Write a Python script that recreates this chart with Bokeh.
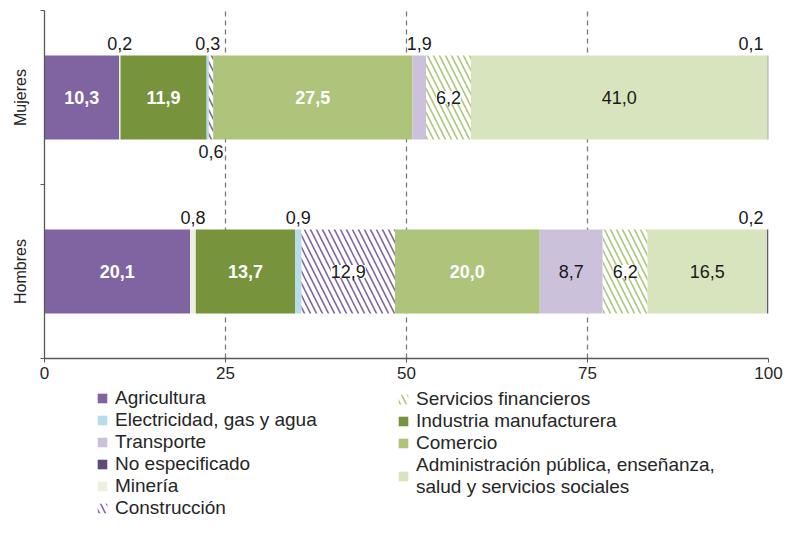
from bokeh.plotting import figure
from bokeh.layouts import column
from bokeh.models import (ColumnDataSource, Range1d, FixedTicker, LabelSet,
                          Legend, LegendItem)
from bokeh.core.properties import value
from bokeh.transform import stack
from bokeh.embed import file_html
from bokeh.resources import INLINE

# ---------------- data ----------------
groups = ["Hombres", "Mujeres"]          # bottom to top
sectors = ["Agricultura", "Minería", "Industria manufacturera",
           "Electricidad, gas y agua", "Construcción", "Comercio",
           "Transporte", "Servicios financieros", "Administración pública",
           "No especificado"]
mujeres = [10.3, 0.2, 11.9, 0.3, 0.6, 27.5, 1.9, 6.2, 41.0, 0.1]
hombres = [20.1, 0.8, 13.7, 0.9, 12.9, 20.0, 8.7, 6.2, 16.5, 0.2]
x_ticks = [0, 25, 50, 75, 100]
legend_col1 = ["Agricultura", "Electricidad, gas y agua", "Transporte",
               "No especificado", "Minería", "Construcción"]
legend_col2 = ["Servicios financieros", "Industria manufacturera", "Comercio",
               "Administración pública"]
legend_text = {"Administración pública":
               "Administración pública, enseñanza,\nsalud y servicios sociales"}

# ---------------- styles ----------------
FONT = "Liberation Sans"
fill = {"Agricultura": "#8064a2", "Minería": "#ebf1de",
        "Industria manufacturera": "#77933c",
        "Electricidad, gas y agua": "#b7dee8", "Construcción": "white",
        "Comercio": "#adc47a", "Transporte": "#ccc1da",
        "Servicios financieros": "white", "Administración pública": "#d7e4bd",
        "No especificado": "#604a7b"}
hatch = {"Construcción": "#8064a2", "Servicios financieros": "#aec67c"}
bold_white = {"Agricultura", "Industria manufacturera", "Comercio"}
below = {("Mujeres", "Construcción")}
end_right = {"No especificado"}
BAR_H = 0.483

def bar_style(s):
    kw = dict(fill_color=fill[s], line_color=None)
    if s in hatch:
        kw.update(hatch_pattern="\\", hatch_color=hatch[s], hatch_weight=1.6,
                  hatch_scale=12)
    return kw

values = {"Hombres": hombres, "Mujeres": mujeres}
keys = [f"s{i}" for i in range(len(sectors))]
data = {"y": [i + 0.5 for i in range(len(groups))]}
for i, k in enumerate(keys):
    data[k] = [values[g][i] for g in groups]
src = ColumnDataSource(data)

p = figure(width=784, height=388, output_backend="svg", toolbar_location=None,
           x_range=Range1d(0, 100), y_range=Range1d(0, len(groups)),
           min_border_left=44, min_border_right=16, min_border_top=10,
           min_border_bottom=30)
p.outline_line_color = None

for i, (k, s) in enumerate(zip(keys, sectors)):
    p.hbar(y="y", left=stack(*keys[:i]), right=stack(*keys[:i + 1]),
           height=BAR_H, source=src, **bar_style(s))

# ---------------- value labels ----------------
lab = {"white": dict(x=[], y=[], t=[]), "dark": dict(x=[], y=[], t=[]),
       "box": dict(x=[], y=[], t=[]), "out": dict(x=[], y=[], t=[], off=[]),
       "end": dict(x=[], y=[], t=[], off=[])}
for gi, g in enumerate(groups):
    cum = 0.0
    for s, v in zip(sectors, values[g]):
        left, right = cum, cum + v
        cum = right
        txt = f"{v:.1f}".replace(".", ",")
        yc = gi + 0.5
        if v >= 5:
            key = "white" if s in bold_white else ("box" if s in hatch else "dark")
            lab[key]["x"].append((left + right) / 2)
            lab[key]["y"].append(yc)
            lab[key]["t"].append(txt)
        elif s in end_right:
            lab["end"]["x"].append(right)
            lab["end"]["y"].append(yc)
            lab["end"]["t"].append(txt)
            lab["end"]["off"].append(54)
        else:
            lab["out"]["x"].append((left + right) / 2)
            lab["out"]["y"].append(yc)
            lab["out"]["t"].append(txt)
            lab["out"]["off"].append(-54 if (g, s) in below else 54)

common = dict(text_font=value(FONT), text_font_size="18px", text_baseline="middle")
p.add_layout(LabelSet(x="x", y="y", text="t", source=ColumnDataSource(lab["white"]),
                      text_color="white", text_font_style="bold",
                      text_align="center", **common))
p.add_layout(LabelSet(x="x", y="y", text="t", source=ColumnDataSource(lab["dark"]),
                      text_color="#1a1a1a", text_align="center", **common))
p.add_layout(LabelSet(x="x", y="y", text="t", source=ColumnDataSource(lab["box"]),
                      text_color="#1a1a1a", text_align="center",
                      background_fill_color="white", **common))
p.add_layout(LabelSet(x="x", y="y", text="t", y_offset="off",
                      source=ColumnDataSource(lab["out"]),
                      text_color="#1a1a1a", text_align="center", **common))
p.add_layout(LabelSet(x="x", y="y", text="t", y_offset="off", x_offset=-5,
                      source=ColumnDataSource(lab["end"]),
                      text_color="#1a1a1a", text_align="right", **common))

# ---------------- axes & grid ----------------
AX = "#595959"
p.xaxis.ticker = FixedTicker(ticks=x_ticks)
p.xaxis.axis_line_color = AX
p.xaxis.axis_line_width = 1.3
p.xaxis.major_tick_line_color = AX
p.xaxis.major_tick_out = 4
p.xaxis.major_tick_in = 0
p.xaxis.minor_tick_line_color = None
p.xaxis.major_label_text_font = FONT
p.xaxis.major_label_text_font_size = "17px"
p.xaxis.major_label_text_color = "#262626"
p.xaxis.major_label_standoff = 4

p.yaxis.ticker = FixedTicker(ticks=[i + 0.5 for i in range(len(groups))],
                             minor_ticks=list(range(len(groups) + 1)))
p.yaxis.major_label_overrides = {i + 0.5: g for i, g in enumerate(groups)}
p.yaxis.major_label_orientation = "vertical"
p.yaxis.axis_line_color = AX
p.yaxis.axis_line_width = 1.3
p.yaxis.major_tick_line_color = None
p.yaxis.major_tick_out = 0
p.yaxis.major_tick_in = 0
p.yaxis.minor_tick_line_color = AX
p.yaxis.minor_tick_out = 4
p.yaxis.minor_tick_in = 0
p.yaxis.major_label_text_font = FONT
p.yaxis.major_label_text_font_size = "16px"
p.yaxis.major_label_text_color = "#262626"
p.yaxis.major_label_standoff = 12

p.ygrid.visible = False
p.xgrid.ticker = FixedTicker(ticks=x_ticks[1:])
p.xgrid.grid_line_color = "#7a7a7a"
p.xgrid.grid_line_dash = "5 4"
p.xgrid.grid_line_width = 1.3

# ---------------- legend panel ----------------
# Same stacked bars, drawn outside this panel's visible range: they only
# provide the legend swatches.
lf = figure(width=784, height=131, output_backend="svg", toolbar_location=None,
            x_range=Range1d(0, 100), y_range=Range1d(10, 11),
            min_border=0, x_axis_location=None, y_axis_location=None)
lf.outline_line_color = None
lf.xgrid.visible = False
lf.ygrid.visible = False
legend_glyphs = {}
for i, (k, s) in enumerate(zip(keys, sectors)):
    legend_glyphs[s] = lf.hbar(y="y", left=stack(*keys[:i]),
                               right=stack(*keys[:i + 1]), height=BAR_H,
                               source=src, **bar_style(s))

def make_legend(names, loc):
    items = [LegendItem(label=legend_text.get(n, n), renderers=[legend_glyphs[n]])
             for n in names]
    return Legend(items=items, location=loc, orientation="vertical",
                  label_text_font=FONT, label_text_font_size="19px",
                  label_text_color="#262626", glyph_width=12, glyph_height=12,
                  label_standoff=7, spacing=0, padding=0, margin=0,
                  border_line_color=None, background_fill_alpha=0)

lf.add_layout(make_legend(legend_col1, (52, 0)))
lf.add_layout(make_legend(legend_col2, (353, 21)))

open("out.html", "w").write(file_html(column(p, lf, spacing=0), INLINE))
